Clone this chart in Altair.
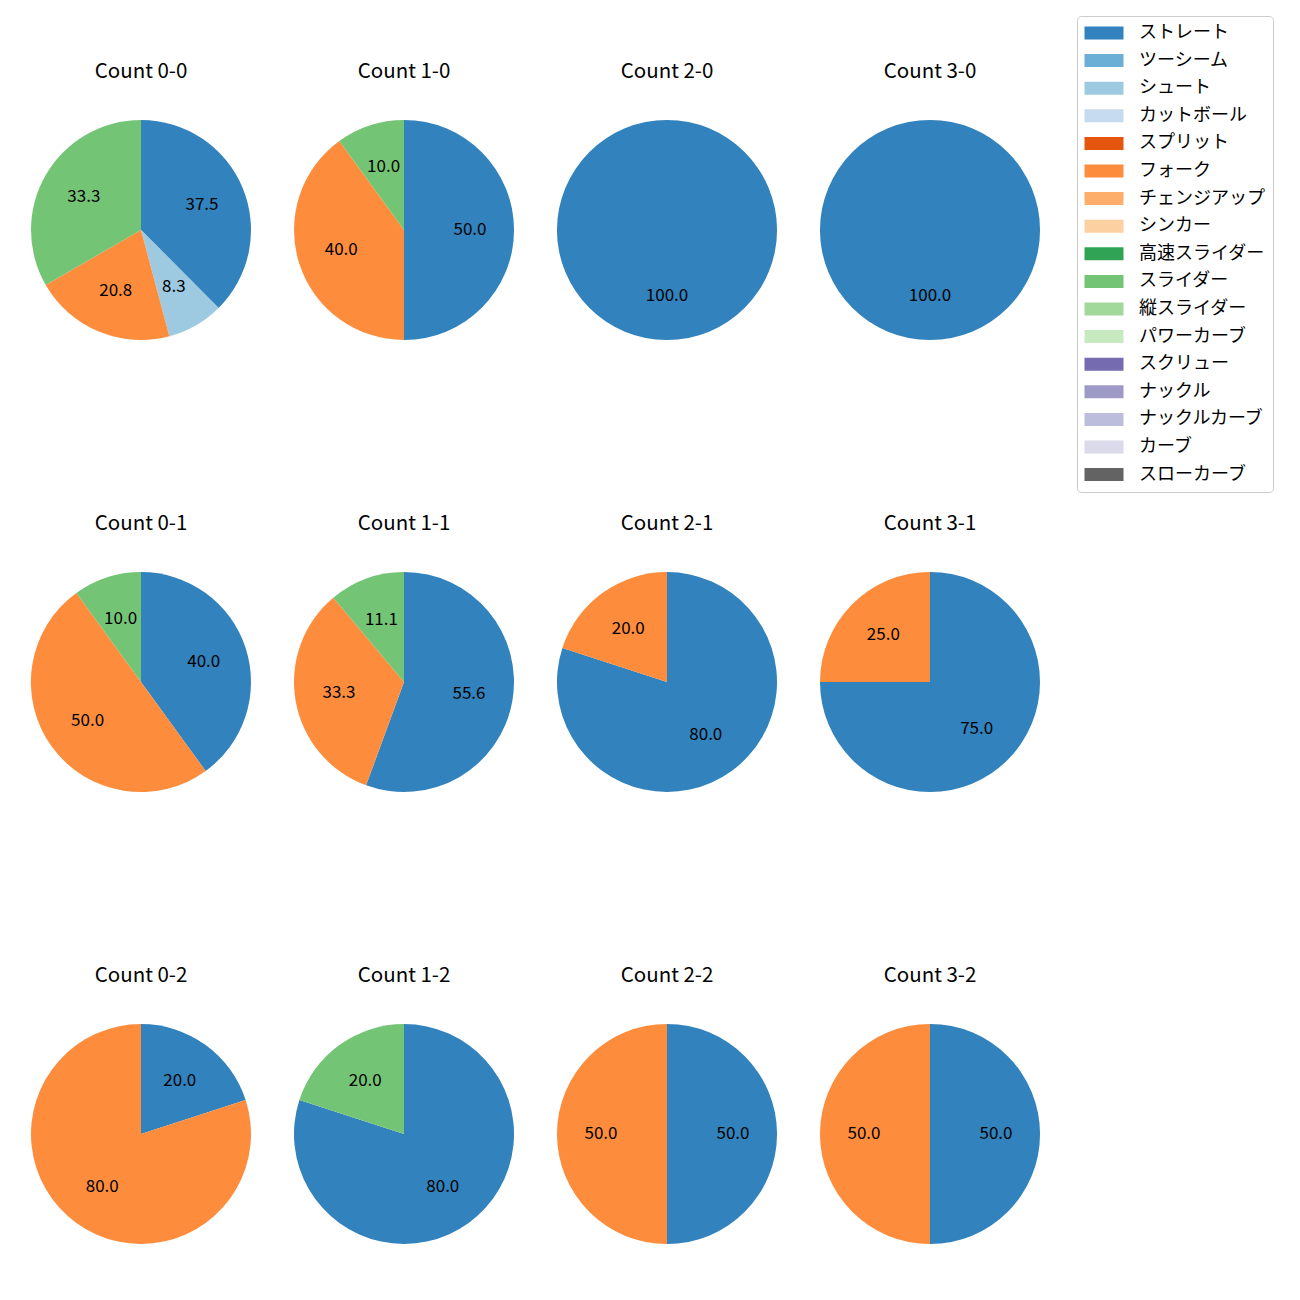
import altair as alt
import pandas as pd

pitch_types = ["ストレート", "ツーシーム", "シュート", "カットボール", "スプリット", "フォーク",
               "チェンジアップ", "シンカー", "高速スライダー", "スライダー", "縦スライダー",
               "パワーカーブ", "スクリュー", "ナックル", "ナックルカーブ", "カーブ", "スローカーブ"]
colors = ["#3182bd", "#6baed6", "#9ecae1", "#c6dbef", "#e6550d", "#fd8d3c", "#fdae6b",
          "#fdd0a2", "#31a354", "#74c476", "#a1d99b", "#c7e9c0", "#756bb1", "#9e9ac8",
          "#bcbddc", "#dadaeb", "#636363"]

counts = ["Count 0-0", "Count 1-0", "Count 2-0", "Count 3-0",
          "Count 0-1", "Count 1-1", "Count 2-1", "Count 3-1",
          "Count 0-2", "Count 1-2", "Count 2-2", "Count 3-2"]

c00_types = ["ストレート", "シュート", "フォーク", "スライダー"]
c00_vals = [37.5, 8.3, 20.8, 33.3]
c10_types = ["ストレート", "フォーク", "スライダー"]
c10_vals = [50.0, 40.0, 10.0]
c20_types = ["ストレート"]
c20_vals = [100.0]
c30_types = ["ストレート"]
c30_vals = [100.0]
c01_types = ["ストレート", "フォーク", "スライダー"]
c01_vals = [40.0, 50.0, 10.0]
c11_types = ["ストレート", "フォーク", "スライダー"]
c11_vals = [55.6, 33.3, 11.1]
c21_types = ["ストレート", "フォーク"]
c21_vals = [80.0, 20.0]
c31_types = ["ストレート", "フォーク"]
c31_vals = [75.0, 25.0]
c02_types = ["ストレート", "フォーク"]
c02_vals = [20.0, 80.0]
c12_types = ["ストレート", "スライダー"]
c12_vals = [80.0, 20.0]
c22_types = ["ストレート", "フォーク"]
c22_vals = [50.0, 50.0]
c32_types = ["ストレート", "フォーク"]
c32_vals = [50.0, 50.0]

series = [(c00_types, c00_vals), (c10_types, c10_vals), (c20_types, c20_vals), (c30_types, c30_vals),
          (c01_types, c01_vals), (c11_types, c11_vals), (c21_types, c21_vals), (c31_types, c31_vals),
          (c02_types, c02_vals), (c12_types, c12_vals), (c22_types, c22_vals), (c32_types, c32_vals)]

rows = []
for cnt, (types, vals) in zip(counts, series):
    for t, v in zip(types, vals):
        rows.append({"count": cnt, "pitch": t, "pct": v, "idx": pitch_types.index(t)})
df = pd.DataFrame(rows)

FONT = "Noto Sans CJK JP"

base = alt.Chart(df).encode(
    theta=alt.Theta("pct:Q", stack=True),
    order=alt.Order("idx:Q", sort="ascending"),
)

arc = base.mark_arc(outerRadius=110).encode(
    color=alt.Color(
        "pitch:N",
        scale=alt.Scale(domain=pitch_types, range=colors),
        legend=alt.Legend(
            title=None,
            orient="none",
            legendX=1046,
            legendY=-104,
            symbolType="M-3,-1L3,-1L3,1L-3,1Z",
            symbolSize=169,
            symbolStrokeWidth=0,
            symbolOffset=10,
            labelOffset=26,
            labelFontSize=18,
            labelFont=FONT,
            labelColor="#000000",
            rowPadding=9.6,
            padding=8,
            strokeColor="#cccccc",
            fillColor="#ffffff",
            cornerRadius=4,
            labelLimit=300,
        ),
    )
)

text = base.mark_text(radius=66, fontSize=17, font=FONT, color="#000000").encode(
    text=alt.Text("pct:Q", format=".1f")
)

chart = alt.layer(arc, text).properties(width=220, height=220).facet(
    facet=alt.Facet("count:N", sort=counts,
                    header=alt.Header(title=None, labelFontSize=20.5, labelFont=FONT,
                                      labelColor="#000000", labelPadding=38)),
    columns=4,
    spacing={"column": 43, "row": 173},
).resolve_scale(theta="independent").properties(
    padding={"left": 23, "top": 7, "right": 5, "bottom": 5}
).configure_view(stroke=None)

chart.save("out.html", embed_options={"renderer": "svg", "actions": False})
